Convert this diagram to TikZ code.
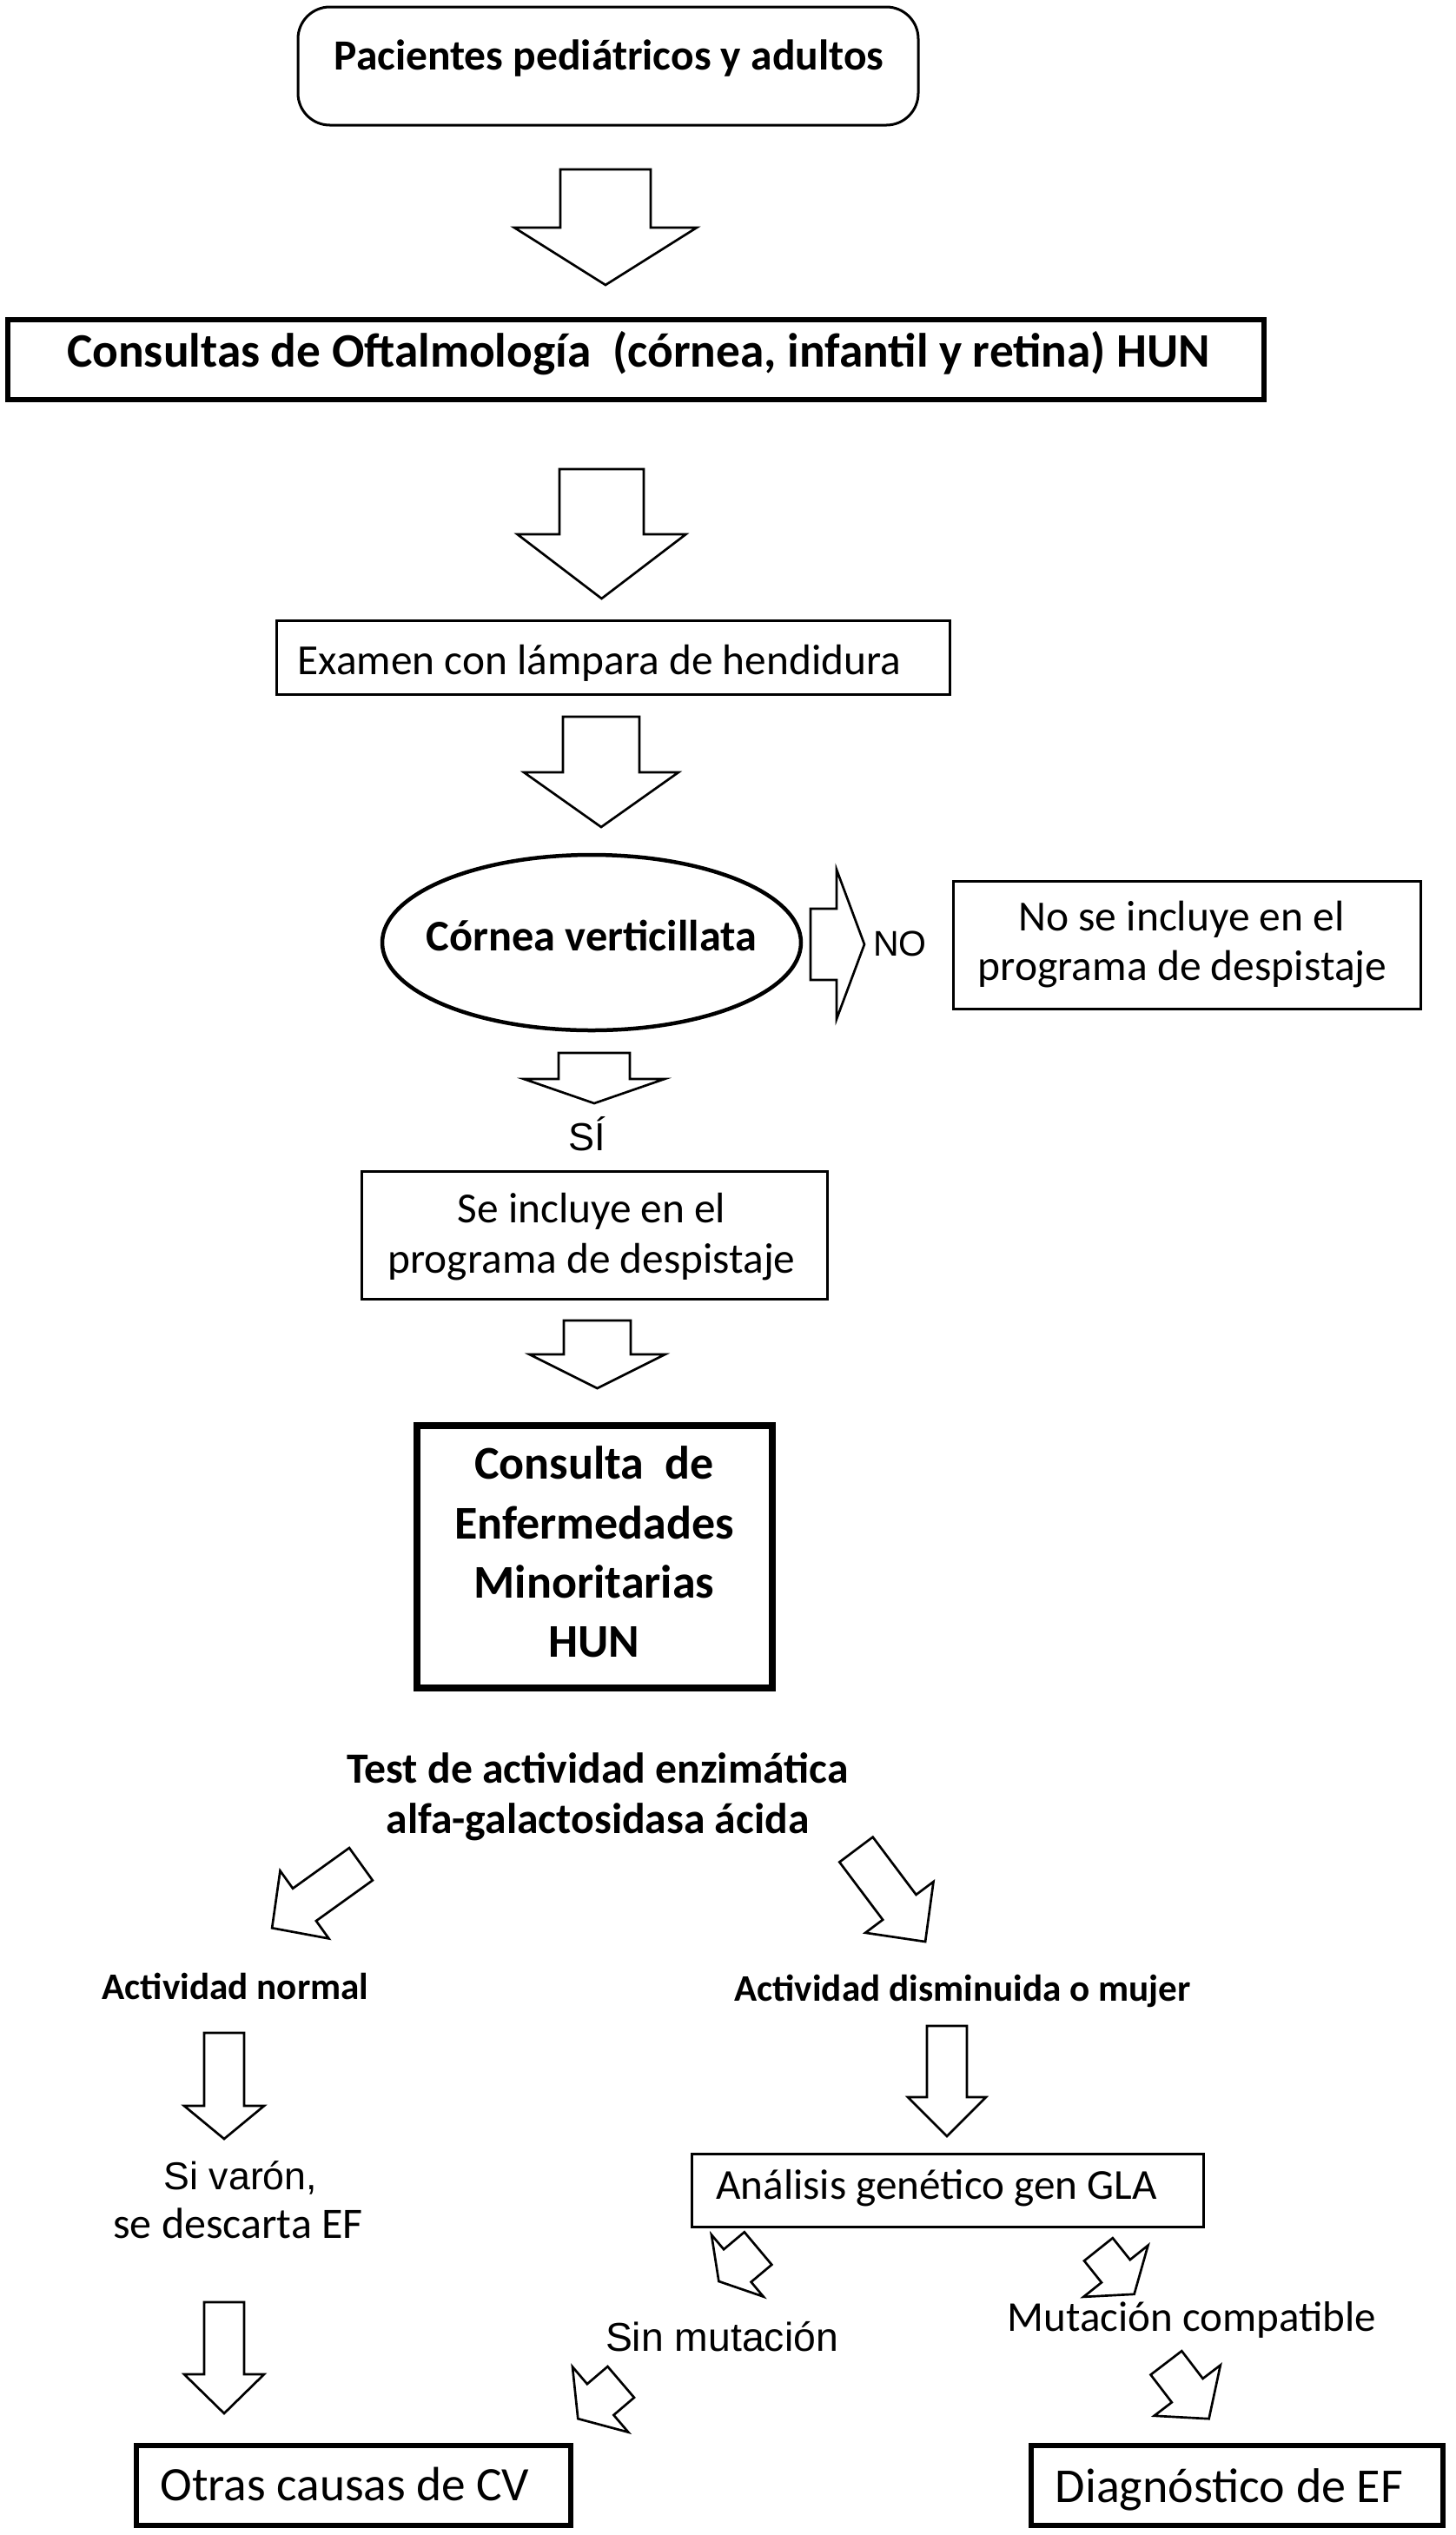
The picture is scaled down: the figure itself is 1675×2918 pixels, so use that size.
\documentclass[tikz,border=0pt]{standalone}
\usepackage{fontspec}
\setmainfont{Carlito}
\newfontfamily\arialf{Liberation Sans}
\usetikzlibrary{shapes.geometric}
\tikzset{
  thinbox/.style={draw, line width=0.9pt, rectangle, inner sep=0pt},
  thickbox/.style={draw, line width=1.8pt, rectangle, inner sep=0pt},
  ovalbox/.style={draw, line width=1.35pt, ellipse, inner sep=0pt},
  lbl/.style={inner sep=0pt, anchor=base, align=center},
  barrow/.style={draw, line width=0.8pt, line join=miter, fill=white},
}
% name, x, y, angle, length, head length, shaft width, head width
\newcommand\blockarr[8]{%
  \coordinate (#1) at (#2,#3);
  \draw[barrow, shift={(#1)}, rotate=#4]
    ({-#5/2},{#7/2}) -- ({#5/2-#6},{#7/2}) -- ({#5/2-#6},{#8/2}) -- ({#5/2},0)
    -- ({#5/2-#6},{-#8/2}) -- ({#5/2-#6},{-#7/2}) -- ({-#5/2},{-#7/2}) -- cycle;}
\begin{document}
\begin{tikzpicture}[x=0.3pt,y=-0.3pt]
\useasboundingbox[fill=white] (0,0) rectangle (1675,2918);

% boxes
\node[draw, line width=0.9pt, rounded corners=11pt, minimum width=214.2pt, minimum height=40.8pt] (pac) at (700,76) {};
\node[thickbox, minimum width=433.8pt, minimum height=27.6pt] (oft) at (732,414) {};
\node[thinbox, minimum width=232.5pt, minimum height=25.5pt] (exa) at (705.5,756.5) {};
\node[ovalbox, minimum width=144.6pt, minimum height=60.6pt] (cv) at (681,1085) {};
\node[thinbox, minimum width=161.4pt, minimum height=44.1pt] (nobox) at (1366,1087.5) {};
\node[thinbox, minimum width=160.8pt, minimum height=44.1pt] (sibox) at (684,1421.5) {};
\node[draw, line width=2.2pt, rectangle, inner sep=0pt, minimum width=122.7pt, minimum height=90.6pt] (cem) at (684.5,1792) {};
\node[thinbox, minimum width=176.7pt, minimum height=25.2pt] (gla) at (1090.5,2521) {};
\node[thickbox, minimum width=150pt, minimum height=27.6pt] (otras) at (407,2861) {};
\node[thickbox, minimum width=142.2pt, minimum height=27.6pt] (diag) at (1424,2861) {};

% texts
\node[lbl, font=\fontsize{14.85pt}{17pt}\selectfont\bfseries] (tpac) at (701,80) {Pacientes pediátricos y adultos};
\node[lbl, font=\fontsize{16.6pt}{19pt}\selectfont\bfseries] (toft) at (735,422) {Consultas de Oftalmología\ \ (córnea, infantil y retina) HUN};
\node[lbl, font=\fontsize{14.8pt}{17pt}\selectfont] (texa) at (690,776) {Examen con lámpara de hendidura};
\node[lbl, font=\fontsize{15.1pt}{17pt}\selectfont\bfseries] (tcv) at (681,1094) {Córnea verticillata};
\node[lbl, font=\fontsize{12.3pt}{15pt}\selectfont\arialf] (tno) at (1036,1100) {NO};
\node[lbl, font=\fontsize{14.85pt}{17pt}\selectfont] (tnob1) at (1360,1071) {No se incluye en el};
\node[lbl, font=\fontsize{14.85pt}{17pt}\selectfont] (tnob2) at (1361,1128) {programa de despistaje};
\node[lbl, font=\fontsize{13.5pt}{16pt}\selectfont\arialf] (tsi) at (676,1324) {SÍ};
\node[lbl, font=\fontsize{14.8pt}{17pt}\selectfont] (tsib1) at (681,1407) {Se incluye en el};
\node[lbl, font=\fontsize{14.8pt}{17pt}\selectfont] (tsib2) at (681,1465) {programa de despistaje};
\node[lbl, font=\fontsize{16.2pt}{19pt}\selectfont\bfseries] (tcem1) at (684,1702) {Consulta\ \ de};
\node[lbl, font=\fontsize{16.2pt}{19pt}\selectfont\bfseries] (tcem2) at (684,1771) {Enfermedades};
\node[lbl, font=\fontsize{16.2pt}{19pt}\selectfont\bfseries] (tcem3) at (684,1839) {Minoritarias};
\node[lbl, font=\fontsize{16.2pt}{19pt}\selectfont\bfseries] (tcem4) at (684,1907) {HUN};
\node[lbl, font=\fontsize{14.9pt}{17pt}\selectfont\bfseries] (ttest1) at (688,2052) {Test de actividad enzimática};
\node[lbl, font=\fontsize{14.9pt}{17pt}\selectfont\bfseries] (ttest2) at (688,2110) {alfa-galactosidasa ácida};
\node[lbl, font=\fontsize{12.95pt}{15pt}\selectfont\bfseries] (tnorm) at (271,2301) {Actividad normal};
\node[lbl, font=\fontsize{12.95pt}{15pt}\selectfont\bfseries] (tdism) at (1108,2303) {Actividad disminuida o mujer};
\node[lbl, font=\fontsize{13.4pt}{16pt}\selectfont\arialf] (tvar1) at (277,2520) {Si varón,};
\node[lbl, font=\fontsize{15pt}{17pt}\selectfont] (tvar2) at (274,2576) {se descarta EF};
\node[lbl, font=\fontsize{14.75pt}{17pt}\selectfont] (tgla) at (1078,2531) {Análisis genético\ gen GLA};
\node[lbl, font=\fontsize{13.9pt}{16pt}\selectfont\arialf] (tsin) at (831,2706) {Sin mutación};
\node[lbl, font=\fontsize{14.7pt}{17pt}\selectfont] (tmut) at (1372,2683) {Mutación compatible};
\node[lbl, font=\fontsize{16.6pt}{19pt}\selectfont] (totras) at (397,2878) {Otras\ causas de CV};
\node[lbl, font=\fontsize{16.8pt}{19pt}\selectfont] (tdiag) at (1415,2880) {Diagnóstico\ de EF};

% block arrows
\blockarr{a1}{697}{261.5}{-90}{133}{66}{104}{210}
\blockarr{a2}{692.5}{614.5}{-90}{149}{74}{97}{194}
\blockarr{a3}{692}{888.5}{-90}{127}{63}{88}{178}
\blockarr{a4}{684}{1241}{-90}{58}{28}{82}{162}
\blockarr{a5}{687.5}{1559}{-90}{78}{39}{77}{156}
\blockarr{ano}{964}{1087}{0}{62}{32}{82}{172}
\blockarr{dl}{364.3}{2182.5}{215.7}{126}{46}{46}{96}
\blockarr{dr}{1025.3}{2182}{-53.1}{132.6}{49.6}{48}{98}
\blockarr{l1}{258}{2401}{-90}{122}{38}{46}{92}
\blockarr{l2}{258}{2714}{-90}{128}{45}{46}{92}
\blockarr{r1}{1090}{2395.5}{-90}{127}{45}{46}{90}
\blockarr{s1}{850}{2607}{220}{59}{28}{49}{93}
\blockarr{s2}{690}{2763}{220.5}{65}{34}{47}{99}
\blockarr{m1}{1285}{2615}{-51.4}{66}{34}{42}{95}
\blockarr{m2}{1367}{2752}{-52.6}{81}{41}{45}{96}
\end{tikzpicture}
\end{document}
